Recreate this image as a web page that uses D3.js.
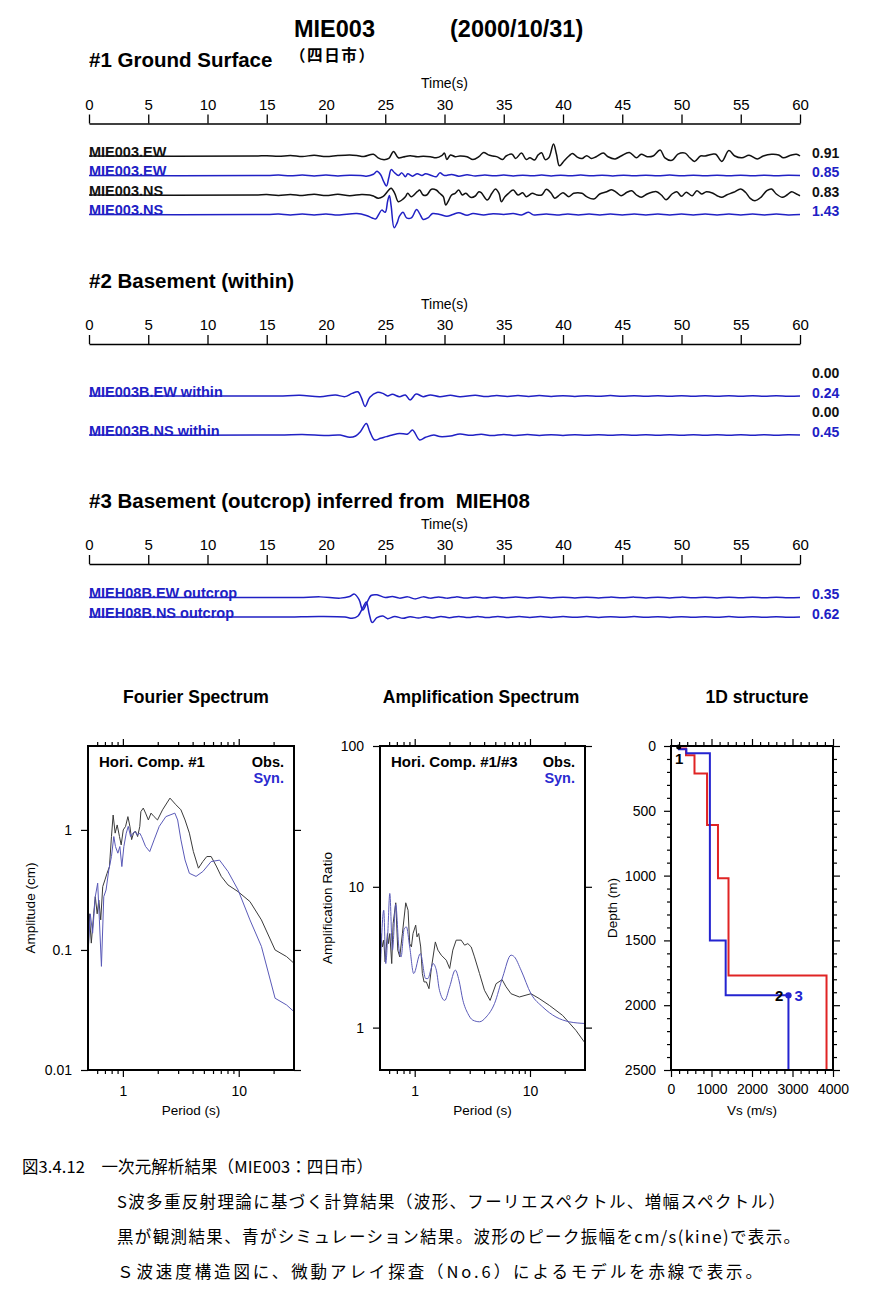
<!DOCTYPE html>
<html><head><meta charset="utf-8">
<script src="https://cdn.jsdelivr.net/npm/d3@7/dist/d3.min.js"></script>
<style>body{margin:0;background:#fff}svg{display:block}</style>
</head><body>
<svg id="c" width="885" height="1294"></svg>
<script>
// ---------------- DATA ----------------
const timeTicks = [0,5,10,15,20,25,30,35,40,45,50,55,60];

// waveforms: [time (s), relative amplitude (peak = 1)]
const obsEW1 = [[0,0],[14,0],[15,0.03],[16,-0.03],[17,0.05],[18,-0.04],[19,0.06],[20,-0.05],[21,0.04],[22,0.09],[22.6,0.05],[23.2,-0.04],[24.0,0.15],[24.4,-0.15],[24.8,-0.3],[25.3,-0.2],[25.7,0.38],[26.1,-0.15],[26.5,-0.09],[27.1,0.03],[27.7,-0.06],[28.2,-0.03],[28.8,-0.06],[29.3,-0.15],[29.8,0.06],[30.0,0.24],[30.2,-0.3],[30.5,0.09],[30.9,-0.06],[31.3,0],[31.9,-0.06],[32.4,-0.3],[32.9,-0.06],[33.3,0.3],[33.7,0.09],[34.1,0],[34.5,-0.09],[34.9,-0.3],[35.2,0],[35.7,0.15],[36.0,-0.21],[36.5,0.24],[36.9,-0.3],[37.2,-0.15],[37.6,-0.33],[37.9,0.09],[38.2,0.27],[38.5,-0.3],[38.8,-0.15],[39.2,1],[39.45,0.15],[39.7,-0.82],[40.1,-0.39],[40.5,0],[40.8,0.21],[41.2,-0.09],[41.6,-0.21],[42.0,0.03],[42.4,-0.2],[42.8,-0.06],[43.4,0.24],[43.8,-0.06],[44.4,-0.24],[44.9,0],[45.6,0.3],[46.2,-0.15],[46.6,0.15],[47.1,-0.06],[47.6,0],[48.2,0.5],[48.6,-0.15],[49.2,-0.36],[49.7,0.15],[50.3,0.24],[50.7,-0.15],[51.1,-0.45],[51.6,0],[52.0,0],[52.6,0.15],[52.9,0.15],[53.4,-0.45],[54.0,0.45],[54.5,0],[55.1,-0.15],[55.7,0.06],[56.4,-0.24],[56.9,0],[57.6,0.15],[58.2,0.09],[58.6,-0.15],[59.2,0.06],[59.7,0.15],[60,0]];
const synEW1 = [[0,0],[15,0],[16,0.04],[17,-0.03],[18,0.05],[19,-0.04],[20,0.04],[21,-0.05],[22,0.03],[22.9,0],[23.4,-0.06],[24.0,0.12],[24.3,0.4],[24.6,0.1],[24.85,-0.53],[25.1,-1],[25.3,-0.22],[25.5,0.56],[25.8,0.25],[26.1,0],[26.4,0.25],[26.7,-0.12],[26.9,0.16],[27.3,-0.06],[27.7,0.16],[28.1,0],[28.4,0.16],[28.9,0],[29.3,-0.12],[29.6,0.25],[30.0,0],[30.6,0.1],[31.2,-0.06],[31.9,0.06],[32.6,-0.04],[33.4,0.05],[34.2,-0.03],[35.0,0.04],[35.8,-0.04],[36.6,0.03],[37.4,-0.03],[38.2,0.04],[39.0,-0.04],[39.8,0.03],[40.6,-0.02],[41.5,0.04],[42.4,-0.03],[43.3,0.03],[44.2,-0.04],[45.1,0.03],[46.0,-0.02],[47.0,0.03],[48.0,-0.03],[49.0,0.04],[50.0,-0.03],[51.0,0.02],[52.0,-0.03],[53.0,0.03],[54.0,-0.02],[55.0,0.03],[56.0,-0.03],[57.0,0.02],[58.0,-0.02],[59.0,0.02],[60,0]];
const obsNS1 = [[0,0],[14,0],[15,0.04],[16,-0.04],[17,0.06],[18,-0.05],[19,0.08],[20,-0.06],[21,0.07],[22,-0.08],[23,0.06],[23.7,0],[24.0,-0.1],[24.4,-0.33],[24.8,-0.17],[25.3,0.5],[25.5,0.67],[25.8,0.17],[26.1,-0.67],[26.4,-0.5],[26.7,-0.17],[26.9,0.17],[27.2,-0.17],[27.7,0.33],[27.9,0.5],[28.2,0],[28.5,0],[28.9,0.57],[29.3,0.5],[29.6,0.17],[29.9,-0.17],[30.1,-1],[30.3,-0.67],[30.6,0],[30.9,0.17],[31.2,0.5],[31.5,0],[31.8,0.17],[32.2,-0.23],[32.6,-0.1],[32.9,0.33],[33.1,0.23],[33.6,-0.5],[34.0,0.17],[34.3,0.6],[34.6,0.17],[34.8,-0.67],[35.1,-0.17],[35.4,0.17],[35.8,0.5],[36.2,0],[36.6,0.23],[36.9,-0.17],[37.4,0.17],[37.8,0],[38.2,0],[38.6,0.57],[39.0,0.17],[39.3,-0.33],[39.7,0],[40.0,0.23],[40.5,-0.17],[40.9,0.17],[41.6,0.17],[42.0,-0.17],[42.6,-0.4],[43.1,0.1],[43.7,0.33],[44.1,0.53],[44.5,0.27],[44.9,-0.07],[45.4,0.27],[45.8,0.43],[46.2,0],[46.6,-0.23],[47.1,0.1],[47.5,0.27],[47.9,0.33],[48.3,0],[48.7,-0.47],[49.2,0.1],[49.6,0.33],[50.0,-0.13],[50.4,0.27],[50.9,-0.07],[51.3,0.43],[51.7,0.1],[52.1,0.33],[52.6,0.2],[53.0,-0.07],[53.4,-0.23],[53.8,0],[54.4,0.27],[55.0,0.6],[55.4,0.27],[55.8,-0.33],[56.2,-0.57],[56.7,-0.23],[57.2,0.43],[57.6,0.6],[58.0,0.1],[58.5,-0.23],[58.9,0],[59.3,0.33],[59.7,0.1],[60,-0.07]];
const synNS1 = [[0,0],[15,0],[16,0.02],[17,-0.02],[18,0.03],[19,-0.02],[20,0.03],[21,-0.03],[22.6,0.05],[23.4,-0.05],[23.9,-0.18],[24.2,-0.23],[24.45,0],[24.7,0.23],[25.0,0.12],[25.2,0.7],[25.35,1],[25.5,0.44],[25.75,-0.7],[26.0,-0.44],[26.2,-0.09],[26.5,0.12],[26.8,-0.18],[27.2,-0.18],[27.65,0.26],[27.9,0.05],[28.2,-0.26],[28.6,-0.18],[29.0,0.05],[29.6,0],[30.2,-0.09],[30.7,0],[31.2,0.09],[31.9,-0.04],[32.4,0.05],[33.3,-0.02],[34.1,0.04],[35.0,0],[35.8,0.05],[36.5,-0.02],[37.1,0.12],[37.5,-0.02],[38.6,0.02],[39.5,-0.03],[40.4,0.03],[41.3,-0.02],[42.2,0.03],[43.1,-0.02],[44.0,0.02],[45.0,-0.03],[46.0,0.02],[47.0,-0.02],[48.0,0.03],[49.0,-0.02],[50.0,0.02],[51.0,-0.02],[52.0,0.03],[53.0,-0.02],[54.0,0.02],[55.0,-0.02],[56.0,0.02],[57.0,-0.02],[58.0,0.02],[59.0,-0.02],[60,0]];
const synEWwithin = [[0,0],[15,0],[16.1,0],[17.8,0.06],[19.5,-0.06],[20.8,0.1],[21.6,-0.06],[22.2,0.25],[22.7,0.4],[23.0,-0.2],[23.3,-1],[23.7,-0.12],[24.3,0.34],[24.8,0.25],[25.2,0],[25.6,0.16],[26.2,-0.06],[26.7,0.1],[27.1,-0.38],[27.6,0.19],[28.2,-0.06],[28.8,0.1],[29.6,-0.06],[30.5,0.06],[31.3,-0.06],[32.6,0.06],[33.5,-0.05],[34.4,0.05],[35.3,-0.04],[36.2,0.05],[37.1,-0.04],[38.0,0.04],[39.0,-0.04],[40.0,0.03],[41.0,-0.04],[42.0,0.03],[43.0,-0.03],[44.0,0.04],[45.0,-0.03],[46.0,0.03],[47.0,-0.03],[48.0,0.03],[49.0,-0.03],[50.0,0.03],[51.0,-0.02],[52.0,0.03],[53.0,-0.03],[54.0,0.02],[55.0,-0.03],[56.0,0.03],[57.0,-0.02],[58.0,0.03],[59.0,-0.02],[60,0]];
const synNSwithin = [[0,0],[16,0],[18,0.05],[20,-0.04],[21.2,0],[22.0,-0.2],[22.5,-0.09],[22.9,0.29],[23.4,1],[23.7,0.29],[24.1,-0.43],[24.6,-0.29],[25.1,-0.14],[25.6,0],[26.2,0.14],[26.9,0.09],[27.3,0.43],[27.9,-0.43],[28.4,-0.2],[29.1,0],[29.6,-0.14],[30.5,-0.09],[31.3,0.09],[32.2,-0.03],[33.1,0.06],[34.0,-0.05],[35.0,0.05],[36.0,-0.04],[37.0,0.04],[38.0,-0.04],[39.0,0.03],[40.0,-0.04],[41.0,0.03],[42.0,-0.03],[43.0,0.03],[44.0,-0.03],[45.0,0.03],[46.0,-0.02],[47.0,0.03],[48.0,-0.03],[49.0,0.02],[50.0,-0.03],[51.0,0.02],[52.0,-0.02],[53.0,0.03],[54.0,-0.02],[55.0,0.02],[56.0,-0.02],[57.0,0.02],[58.0,-0.02],[59.0,0.02],[60,0]];
const synEWoutcrop = [[0,0],[16,0],[17.8,0],[19.5,0.05],[21.2,-0.05],[22.0,0.08],[22.4,0.27],[22.8,-0.19],[23.1,-1],[23.5,-0.32],[23.8,0.16],[24.3,0.22],[25.0,0],[25.6,0.08],[26.2,-0.05],[26.9,0.05],[27.5,-0.11],[28.2,0.05],[28.8,-0.05],[29.5,0.05],[30.2,-0.05],[31.0,0.05],[31.8,-0.04],[32.6,0.05],[33.4,-0.04],[34.2,0.04],[35.0,-0.04],[36.0,0.04],[37.0,-0.03],[38.0,0.04],[39.0,-0.03],[40.0,0.03],[41.0,-0.03],[42.0,0.03],[43.0,-0.03],[44.0,0.03],[45.0,-0.02],[46.0,0.03],[47.0,-0.03],[48.0,0.02],[49.0,-0.03],[50.0,0.03],[51.0,-0.02],[52.0,0.02],[53.0,-0.03],[54.0,0.02],[55.0,-0.02],[56.0,0.03],[57.0,-0.02],[58.0,0.02],[59.0,-0.02],[60,0]];
const synNSoutcrop = [[0,0],[16,0],[19.5,0.04],[21.6,0],[22.2,-0.09],[22.7,0.07],[23.1,0.61],[23.4,1],[23.65,0.2],[23.9,-0.37],[24.3,-0.04],[24.8,0.07],[25.2,-0.11],[25.8,0.04],[26.5,-0.09],[27.1,0.02],[27.8,-0.07],[28.4,0.02],[29.0,-0.06],[29.7,0.04],[30.4,-0.05],[31.2,0.04],[32.0,-0.04],[32.8,0.04],[33.6,-0.03],[34.5,0.04],[35.4,-0.03],[36.3,0.03],[37.2,-0.03],[38.1,0.03],[39.0,-0.03],[40.0,0.03],[41.0,-0.02],[42.0,0.03],[43.0,-0.03],[44.0,0.02],[45.0,-0.02],[46.0,0.03],[47.0,-0.02],[48.0,0.02],[49.0,-0.03],[50.0,0.02],[51.0,-0.02],[52.0,0.02],[53.0,-0.02],[54.0,0.03],[55.0,-0.02],[56.0,0.02],[57.0,-0.02],[58.0,0.02],[59.0,-0.02],[60,0]];

// peak amplitude labels (cm/s)
const peaksSurface = ["0.91","0.85","0.83","1.43"];
const peaksWithin  = ["0.00","0.24","0.00","0.45"];
const peaksOutcrop = ["0.35","0.62"];

// spectra: [period (s), value]
const fourierObs = [[0.5,0.073],[0.513,0.20],[0.534,0.114],[0.56,0.20],[0.578,0.278],[0.60,0.20],[0.62,0.26],[0.644,0.178],[0.67,0.337],[0.70,0.383],[0.73,0.435],[0.766,0.495],[0.797,0.88],[0.824,1.33],[0.858,0.94],[0.893,1.10],[0.935,0.88],[0.967,0.75],[1.007,1.0],[1.055,1.07],[1.105,1.29],[1.15,1.07],[1.19,0.83],[1.24,0.95],[1.29,0.97],[1.34,0.88],[1.40,1.07],[1.43,1.42],[1.50,1.52],[1.57,1.38],[1.66,1.21],[1.75,1.38],[1.86,1.29],[1.99,1.21],[2.2,1.47],[2.55,1.84],[2.87,1.62],[3.17,1.47],[3.44,1.21],[3.75,0.94],[4.06,0.66],[4.49,0.48],[4.9,0.545],[5.3,0.60],[5.78,0.60],[6.4,0.50],[7.07,0.41],[8.08,0.348],[9.87,0.306],[12.5,0.253],[15.7,0.178],[20.6,0.1],[25.9,0.088],[30,0.0774]];
const fourierSyn = [[0.5,0.094],[0.523,0.20],[0.548,0.138],[0.578,0.278],[0.606,0.36],[0.627,0.178],[0.653,0.073],[0.684,0.278],[0.716,0.316],[0.756,0.464],[0.797,0.60],[0.835,0.88],[0.863,0.727],[0.905,0.64],[0.942,0.727],[0.98,0.495],[1.02,0.727],[1.069,0.938],[1.113,1.07],[1.166,0.88],[1.22,0.938],[1.27,0.968],[1.33,0.909],[1.40,0.938],[1.45,0.88],[1.57,0.727],[1.706,0.66],[1.86,0.826],[2.06,1.07],[2.35,1.29],[2.81,1.38],[2.97,1.21],[3.17,0.826],[3.44,0.562],[3.75,0.435],[4.28,0.41],[4.9,0.45],[5.78,0.545],[6.83,0.56],[8.08,0.45],[9.87,0.316],[12.5,0.178],[15.7,0.107],[20.6,0.0396],[25.9,0.0348],[30,0.0306]];
const ampObs = [[0.5,2.56],[0.508,4.66],[0.525,3.74],[0.539,4.18],[0.554,2.93],[0.58,4.66],[0.592,3.95],[0.608,4.66],[0.632,2.85],[0.65,5.49],[0.685,7.7],[0.713,3.55],[0.742,3.18],[0.782,4.66],[0.836,7.7],[0.876,6.82],[0.905,3.95],[0.936,3.74],[0.967,4.66],[1.02,5.34],[1.047,4.41],[1.083,4.66],[1.127,3.74],[1.165,2.42],[1.205,2.11],[1.262,2.11],[1.33,1.89],[1.40,2.70],[1.51,4.06],[1.59,3.55],[1.70,3.27],[1.88,3.01],[2.01,2.63],[2.14,3.55],[2.29,4.18],[2.53,4.18],[2.71,3.85],[2.89,3.95],[3.09,3.74],[3.30,3.18],[3.65,2.42],[4.03,1.84],[4.51,1.56],[5.08,2.05],[5.73,2.19],[6.20,1.95],[6.85,1.74],[8.09,1.65],[10.2,1.74],[12.0,1.61],[14.7,1.44],[19.2,1.22],[25.0,0.957],[30,0.778]];
const ampSyn = [[0.5,2.17],[0.539,6.82],[0.561,2.85],[0.584,4.66],[0.608,8.97],[0.641,3.55],[0.684,7.5],[0.732,3.55],[0.762,3.18],[0.809,5.0],[0.847,5.19],[0.905,3.74],[0.98,2.42],[1.12,3.36],[1.245,2.23],[1.30,2.23],[1.39,2.63],[1.44,2.85],[1.54,2.56],[1.64,1.84],[1.82,1.56],[2.01,1.95],[2.25,2.56],[2.42,2.17],[2.62,1.56],[2.89,1.26],[3.19,1.13],[3.65,1.10],[4.17,1.19],[4.92,1.48],[5.80,2.29],[6.85,3.27],[7.32,3.18],[8.36,2.56],[10.2,1.74],[12.9,1.40],[16.8,1.19],[21.9,1.10],[30,1.07]];
const periodMajor = [1,10];
const periodMinor = [0.6,0.7,0.8,0.9,2,3,4,5,6,7,8,9,20];
const fourierTicks = [0.01,0.1,1];
const ampTicks = [1,10,100];

// 1D structure: layer S-wave velocity (m/s) and layer top depth (m)
const redVs   = [200,370,580,890,1160,1420,3840];
const redTop  = [0,20,72,212,610,1020,1770];
const blueVs  = [200,380,960,1350,2900];
const blueTop = [0,25,55,1500,1924];
const vsMajor = [0,1000,2000,3000,4000];
const vsMinor = [200,400,600,800,1200,1400,1600,1800,2200,2400,2600,2800,3200,3400,3600,3800];
const depthMajor = [0,500,1000,1500,2000,2500];
const depthMinor = [100,200,300,400,600,700,800,900,1100,1200,1300,1400,1600,1700,1800,1900,2100,2200,2300,2400];

const captionLines = [
  "図3.4.12　一次元解析結果（MIE003：四日市）",
  "S波多重反射理論に基づく計算結果（波形、フーリエスペクトル、増幅スペクトル）",
  "黒が観測結果、青がシミュレーション結果。波形のピーク振幅をcm/s(kine)で表示。",
  "Ｓ波速度構造図に、微動アレイ探査（No.6）によるモデルを赤線で表示。"
];

// ---------------- DRAW ----------------
const svg = d3.select('#c');
const SANS = '"Liberation Sans", Arial, Helvetica, sans-serif';
const CJK = '"Noto Sans CJK JP", "Noto Sans CJK SC", sans-serif';
const BLUE = '#2020c4';
const BLACK = '#111';

function txt(x, y, s, size, opt = {}) {
  const t = svg.append('text').attr('x', x).attr('y', y).text(s)
    .attr('font-family', opt.family || SANS).attr('font-size', size)
    .attr('font-weight', opt.bold ? 'bold' : 'normal')
    .attr('fill', opt.color || '#000')
    .attr('text-anchor', opt.anchor || 'start')
    .style('white-space', 'pre');
  if (opt.rotate) t.attr('transform', `rotate(-90,${x},${y})`);
  if (opt.len) t.attr('textLength', opt.len).attr('lengthAdjust', 'spacing');
  return t;
}

// title
txt(294, 37, 'MIE003', 23.5, {bold: true});
txt(450, 37, '(2000/10/31)', 23.5, {bold: true});
txt(290, 61, '（四日市）', 15.5, {bold: true, family: CJK, len: 84});

const x = d3.scaleLinear().domain([0, 60]).range([89, 800]);

function timeSection(title, titleY, traces, values) {
  txt(89, titleY, title, 20.5, {bold: true});
  txt(x(30), titleY + 21, 'Time(s)', 14, {anchor: 'middle'});
  const axisY = titleY + 56.5;
  const g = svg.append('g').attr('transform', `translate(0,${axisY})`)
    .call(d3.axisTop(x).tickValues(timeTicks).tickSize(9).tickSizeOuter(0).tickPadding(5));
  g.attr('font-family', SANS).attr('font-size', 15);
  g.selectAll('text').attr('fill', '#000');
  g.selectAll('line').attr('stroke', '#000').attr('stroke-width', 1.3);
  g.select('.domain').attr('stroke', '#000').attr('stroke-width', 1.5);

  traces.forEach(tr => {
    const y = d3.scaleLinear().domain([-1, 1]).range([tr.y + tr.gain, tr.y - tr.gain]);
    if (tr.data) {
      svg.append('path').datum(tr.data)
        .attr('d', d3.line().x(d => x(d[0])).y(d => y(d[1])).curve(d3.curveCatmullRom.alpha(0.5)))
        .attr('fill', 'none').attr('stroke', tr.color).attr('stroke-width', 1.5);
      txt(89, tr.y + 0.5, tr.label, 14.5, {color: tr.color, bold: true});
    }
    txt(812, tr.y + 1.5, values[tr.vi], 14, {bold: true, color: tr.color});
  });
}

timeSection('#1 Ground Surface', 67, [
  {data: obsEW1, y: 156, gain: 12, color: BLACK, label: 'MIE003.EW', vi: 0},
  {data: synEW1, y: 175.5, gain: 10.5, color: BLUE, label: 'MIE003.EW', vi: 1},
  {data: obsNS1, y: 195, gain: 10, color: BLACK, label: 'MIE003.NS', vi: 2},
  {data: synNS1, y: 214.5, gain: 19, color: BLUE, label: 'MIE003.NS', vi: 3}
], peaksSurface);

timeSection('#2 Basement (within)', 287.5, [
  {data: null, y: 376, gain: 10, color: BLACK, vi: 0},
  {data: synEWwithin, y: 396, gain: 10.5, color: BLUE, label: 'MIE003B.EW within', vi: 1},
  {data: null, y: 415, gain: 10, color: BLACK, vi: 2},
  {data: synNSwithin, y: 435, gain: 11.5, color: BLUE, label: 'MIE003B.NS within', vi: 3}
], peaksWithin);

timeSection('#3 Basement (outcrop) inferred from  MIEH08', 507.5, [
  {data: synEWoutcrop, y: 597.5, gain: 12.5, color: BLUE, label: 'MIEH08B.EW outcrop', vi: 0},
  {data: synNSoutcrop, y: 617, gain: 15, color: BLUE, label: 'MIEH08B.NS outcrop', vi: 1}
], peaksOutcrop);

// ---------- spectra panels ----------
function styleAxis(g, fs) {
  g.select('.domain').remove();
  g.attr('font-family', SANS).attr('font-size', fs);
  g.selectAll('text').attr('fill', '#000');
  g.selectAll('line').attr('stroke', '#000').attr('stroke-width', 1.2);
  return g;
}

function frame(l, r, t, b) {
  svg.append('rect').attr('x', l).attr('y', t).attr('width', r - l).attr('height', b - t)
    .attr('fill', 'none').attr('stroke', '#000').attr('stroke-width', 2);
}

function specPanel(o) {
  const xs = d3.scaleLog().domain([0.5, 30]).range([o.l, o.r]);
  const ys = d3.scaleLog().domain(o.yDom).range([o.b, o.t]);
  txt(o.titleX, 703, o.title, 17.5, {bold: true, anchor: 'middle'});
  styleAxis(svg.append('g').attr('transform', `translate(0,${o.t})`)
    .call(d3.axisTop(xs).tickValues(periodMinor).tickSize(4).tickFormat('')), 13);
  styleAxis(svg.append('g').attr('transform', `translate(0,${o.t})`)
    .call(d3.axisTop(xs).tickValues(periodMajor).tickSize(7).tickFormat('')), 13);
  styleAxis(svg.append('g').attr('transform', `translate(0,${o.b})`)
    .call(d3.axisBottom(xs).tickValues(periodMinor).tickSize(4).tickFormat('')), 13);
  styleAxis(svg.append('g').attr('transform', `translate(0,${o.b})`)
    .call(d3.axisBottom(xs).tickValues(periodMajor).tickSize(7).tickPadding(9).tickFormat(d3.format('d'))), 14);
  styleAxis(svg.append('g').attr('transform', `translate(${o.l},0)`)
    .call(d3.axisLeft(ys).tickValues(o.yTicks).tickSize(7).tickPadding(9).tickFormat(d => String(d))), 14);
  styleAxis(svg.append('g').attr('transform', `translate(${o.r},0)`)
    .call(d3.axisRight(ys).tickValues(o.yTicks).tickSize(7).tickFormat('')), 13);
  const clipId = 'clip' + o.l;
  svg.append('clipPath').attr('id', clipId).append('rect')
    .attr('x', o.l).attr('y', o.t).attr('width', o.r - o.l).attr('height', o.b - o.t);
  svg.append('path').datum(o.obs).attr('clip-path', `url(#${clipId})`)
    .attr('d', d3.line().x(d => xs(d[0])).y(d => ys(d[1])))
    .attr('fill', 'none').attr('stroke', '#3a3a3a').attr('stroke-width', 1);
  svg.append('path').datum(o.syn).attr('clip-path', `url(#${clipId})`)
    .attr('d', d3.line().x(d => xs(d[0])).y(d => ys(d[1])).curve(o.synCurve || d3.curveLinear))
    .attr('fill', 'none').attr('stroke', '#5a5ab8').attr('stroke-width', 1);
  frame(o.l, o.r, o.t, o.b);
  txt(o.l + 11, 767, o.inLabel, 15, {bold: true});
  txt(o.r - 10, 767, 'Obs.', 14.5, {bold: true, anchor: 'end'});
  txt(o.r - 10, 783, 'Syn.', 14.5, {bold: true, anchor: 'end', color: '#2a2ad0'});
  txt((o.l + o.r) / 2, 1115, 'Period (s)', 13.5, {anchor: 'middle'});
  txt(o.yLabelX, (o.t + o.b) / 2, o.yLabel, 13.5, {anchor: 'middle', rotate: true});
}

specPanel({l: 88, r: 294, t: 746, b: 1070, yDom: [0.01, 5], yTicks: fourierTicks,
  title: 'Fourier Spectrum', titleX: 196, inLabel: 'Hori. Comp. #1', obs: fourierObs, syn: fourierSyn,
  yLabel: 'Amplitude (cm)', yLabelX: 35});
specPanel({l: 380, r: 585, t: 746, b: 1070, yDom: [0.5, 100], yTicks: ampTicks,
  title: 'Amplification Spectrum', titleX: 481, inLabel: 'Hori. Comp. #1/#3', obs: ampObs, syn: ampSyn,
  synCurve: d3.curveMonotoneX, yLabel: 'Amplification Ratio', yLabelX: 332});

// ---------- 1D structure ----------
(function () {
  const l = 671, r = 833, t = 746, b = 1070;
  const xs = d3.scaleLinear().domain([0, 4000]).range([l, r]);
  const ys = d3.scaleLinear().domain([0, 2500]).range([t, b]);
  txt(757, 703, '1D structure', 17.5, {bold: true, anchor: 'middle'});
  styleAxis(svg.append('g').attr('transform', `translate(0,${t})`)
    .call(d3.axisTop(xs).tickValues(vsMinor).tickSize(4).tickFormat('')), 13);
  styleAxis(svg.append('g').attr('transform', `translate(0,${t})`)
    .call(d3.axisTop(xs).tickValues(vsMajor).tickSize(7).tickFormat('')), 13);
  styleAxis(svg.append('g').attr('transform', `translate(0,${b})`)
    .call(d3.axisBottom(xs).tickValues(vsMinor).tickSize(4).tickFormat('')), 13);
  styleAxis(svg.append('g').attr('transform', `translate(0,${b})`)
    .call(d3.axisBottom(xs).tickValues(vsMajor).tickSize(7).tickPadding(7).tickFormat(d3.format('d'))), 14);
  styleAxis(svg.append('g').attr('transform', `translate(${l},0)`)
    .call(d3.axisLeft(ys).tickValues(depthMinor).tickSize(4).tickFormat('')), 13);
  styleAxis(svg.append('g').attr('transform', `translate(${l},0)`)
    .call(d3.axisLeft(ys).tickValues(depthMajor).tickSize(7).tickPadding(8).tickFormat(d3.format('d'))), 14);
  styleAxis(svg.append('g').attr('transform', `translate(${r},0)`)
    .call(d3.axisRight(ys).tickValues(depthMinor).tickSize(4).tickFormat('')), 13);
  styleAxis(svg.append('g').attr('transform', `translate(${r},0)`)
    .call(d3.axisRight(ys).tickValues(depthMajor).tickSize(7).tickFormat('')), 13);

  function steps(vs, tops) {
    const pts = [];
    vs.forEach((v, i) => {
      pts.push([v, tops[i]]);
      pts.push([v, i + 1 < tops.length ? tops[i + 1] : 2500]);
    });
    return pts;
  }
  const line = d3.line().x(d => xs(d[0])).y(d => ys(d[1]));
  svg.append('path').datum(steps(redVs, redTop)).attr('d', line)
    .attr('fill', 'none').attr('stroke', '#e02424').attr('stroke-width', 2);
  svg.append('path').datum(steps(blueVs, blueTop)).attr('d', line)
    .attr('fill', 'none').attr('stroke', '#2424d0').attr('stroke-width', 2);
  frame(l, r, t, b);
  svg.append('circle').attr('cx', xs(blueVs[0] - 10)).attr('cy', ys(blueTop[0]) + 1).attr('r', 2.5).attr('fill', '#000');
  txt(xs(blueVs[0]) - 4, 764, '1', 15, {bold: true});
  const last = blueVs.length - 1;
  svg.append('circle').attr('cx', xs(blueVs[last])).attr('cy', ys(blueTop[last])).attr('r', 3.2).attr('fill', '#2424d0');
  txt(xs(blueVs[last]) - 5, ys(blueTop[last]) + 6, '2', 15, {bold: true, anchor: 'end'});
  txt(xs(blueVs[last]) + 6, ys(blueTop[last]) + 6, '3', 15, {bold: true, color: '#2424d0'});
  txt((l + r) / 2, 1115, 'Vs (m/s)', 13.5, {anchor: 'middle'});
  txt(617, (t + b) / 2, 'Depth (m)', 13.5, {anchor: 'middle', rotate: true});
})();

// ---------- caption ----------
const capX = [22, 117, 117, 117];
const capY = [1173, 1208, 1243, 1278];
const capLen = [351, 668, 683, 645];
captionLines.forEach((s, i) => txt(capX[i], capY[i], s, 16.5, {family: CJK, len: capLen[i]}));
</script>
</body></html>
